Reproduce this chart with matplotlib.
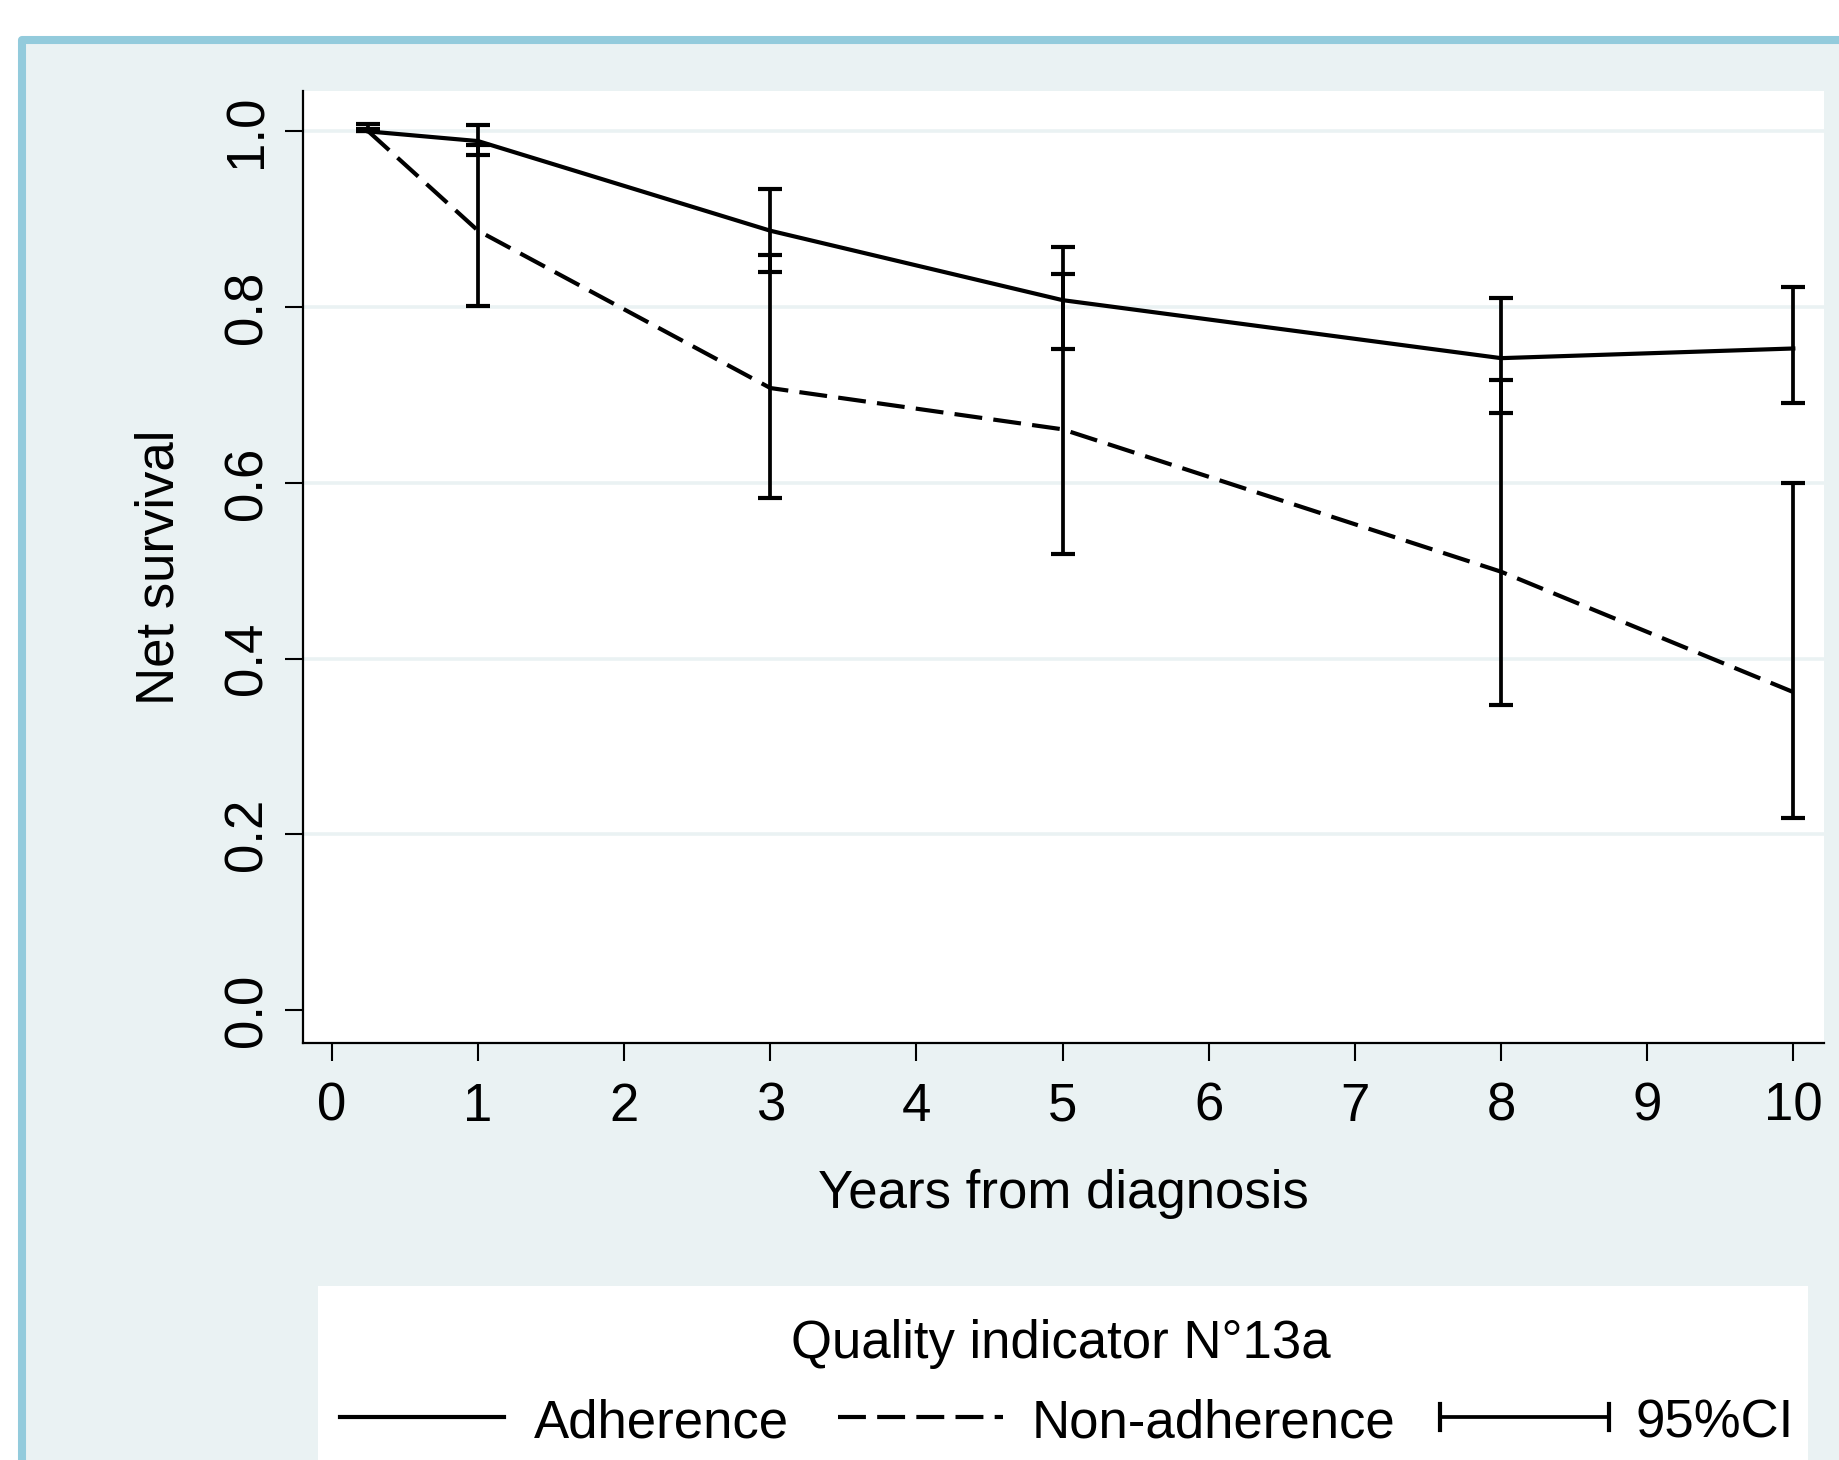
"""
Net survival by adherence to quality indicator N°13a
Stata-like s2color look redrawn with matplotlib
"""

import matplotlib
matplotlib.use("Agg")
import matplotlib.pyplot as plt
from matplotlib.lines import Line2D
from matplotlib.patches import Rectangle

# data
years = [0.25, 1, 3, 5, 8, 10]
adherence = [1.000, 0.989, 0.887, 0.808, 0.742, 0.753]
adherence_lo = [1.000, 0.973, 0.840, 0.752, 0.680, 0.691]
adherence_hi = [1.003, 1.0075, 0.935, 0.868, 0.811, 0.823]
non_adherence = [1.000, 0.887, 0.708, 0.661, 0.499, 0.362]
non_adherence_lo = [1.000, 0.801, 0.583, 0.519, 0.347, 0.219]
non_adherence_hi = [1.009, 0.985, 0.859, 0.838, 0.717, 0.600]

x_ticks = list(range(0, 11))
y_ticks = [0.0, 0.2, 0.4, 0.6, 0.8, 1.0]
legend_title = "Quality indicator N°13a"
legend_labels = ["Adherence", "Non-adherence", "95%CI"]

# figure size in pixels
W, H = 1839, 1460
BG = "#EAF2F3"
BORDER = "#93CBDC"
FS = 38
LW = 3.0
DASH = (0, (6.7, 2.7))

plt.rcParams["font.family"] = ["Liberation Sans", "DejaVu Sans"]


def fx(x):
    return x / W


def fy(y):
    return 1 - y / H


def draw_frame(fig):
    """light bluish graph region with rounded blue border"""
    fig.patch.set_facecolor("white")
    fig.add_artist(Rectangle((fx(22), -0.2), 1.2, fy(40) + 0.2,
                             transform=fig.transFigure, facecolor=BG,
                             edgecolor=BORDER, linewidth=5.8,
                             joinstyle="round", zorder=0))


def draw_errorbars(ax, mid, lo, hi):
    ax.errorbar(years, mid, yerr=[[m - l for m, l in zip(mid, lo)],
                                  [h - m for m, h in zip(mid, hi)]],
                fmt="none", ecolor="black", elinewidth=2.7,
                capsize=8.8, capthick=3.0, zorder=4)


def draw_legend(fig):
    """legend box at the bottom, drawn by hand like Stata"""
    fig.add_artist(Rectangle((fx(318), -0.1), fx(1808) - fx(318), fy(1286) + 0.1,
                             transform=fig.transFigure, facecolor="white",
                             edgecolor="none", zorder=1))
    fig.text(fx(1061), fy(1358), legend_title, ha="center", va="baseline",
             fontsize=FS, zorder=2)

    y_line = fy(1417)
    fig.add_artist(Line2D([fx(340), fx(504)], [y_line, y_line], color="black",
                          lw=LW, transform=fig.transFigure, zorder=2))
    fig.add_artist(Line2D([fx(838), fx(1003)], [y_line, y_line], color="black",
                          lw=LW, linestyle=DASH, transform=fig.transFigure, zorder=2))
    fig.add_artist(Line2D([fx(1440), fx(1609)], [y_line, y_line], color="black",
                          lw=2.7, transform=fig.transFigure, zorder=2))
    for xc in (1440, 1609):
        fig.add_artist(Line2D([fx(xc), fx(xc)], [fy(1404), fy(1430)], color="black",
                              lw=3.0, transform=fig.transFigure, zorder=2))

    for x, label in zip((534, 1032, 1636), legend_labels):
        fig.text(fx(x), fy(1437), label, ha="left", va="baseline",
                 fontsize=FS, zorder=2)


def plot_survival():
    fig = plt.figure(figsize=(W / 100, H / 100), dpi=100)
    draw_frame(fig)

    ax = fig.add_axes([fx(303), fy(1043), fx(1824) - fx(303), fy(91) - fy(1043)])
    ax.set_facecolor("white")
    ax.set_zorder(3)

    ax.plot(years, adherence, color="black", lw=LW, zorder=3)
    ax.plot(years, non_adherence, color="black", lw=LW, linestyle=DASH, zorder=3)
    draw_errorbars(ax, adherence, adherence_lo, adherence_hi)
    draw_errorbars(ax, non_adherence, non_adherence_lo, non_adherence_hi)

    ax.set_xlim(-0.198, 10.21)
    ax.set_ylim(-0.0373, 1.046)
    ax.set_xticks(x_ticks)
    ax.set_yticks(y_ticks)
    ax.set_yticklabels([f"{v:.1f}" for v in y_ticks], rotation=90, va="center")

    # horizontal grid in background colour, none at zero
    ax.yaxis.grid(True, color=BG, lw=2.6)
    ax.get_ygridlines()[0].set_visible(False)
    ax.set_axisbelow(True)

    for side in ("top", "right"):
        ax.spines[side].set_visible(False)
    for side in ("left", "bottom"):
        ax.spines[side].set_linewidth(1.6)

    ax.tick_params(direction="out", length=13, width=1.5, labelsize=FS)
    ax.tick_params(axis="x", pad=15)
    ax.tick_params(axis="y", pad=9)
    ax.set_xlabel("Years from diagnosis", fontsize=FS, labelpad=27)
    ax.set_ylabel("Net survival", fontsize=FS, labelpad=27)

    draw_legend(fig)
    fig.savefig("out.png", dpi=100, facecolor=fig.get_facecolor())


def main():
    plot_survival()


if __name__ == "__main__":
    main()
